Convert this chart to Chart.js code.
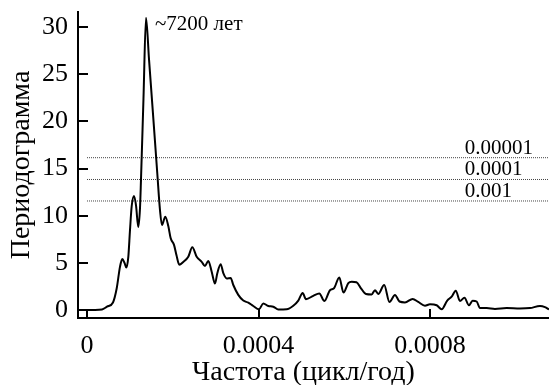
<!DOCTYPE html>
<html>
<head>
<meta charset="utf-8">
<script src="https://cdn.jsdelivr.net/npm/chart.js@4.4.1/dist/chart.umd.min.js"></script>
<style>
  html, body { margin: 0; padding: 0; background: #fff; }
  #wrap { width: 549px; height: 385px; }
</style>
</head>
<body>
<div id="wrap"><canvas id="myChart" width="549" height="385"></canvas></div>
<script>
// frequency, cycles per year
const freq = [
  0, 0.0000187, 0.0000350, 0.0000466, 0.0000606, 0.0000693, 0.0000770, 0.0000823,
  0.0000875, 0.0000917, 0.0000963, 0.0001003, 0.0001042, 0.0001096, 0.0001143, 0.0001196,
  0.0001236, 0.0001259, 0.0001317, 0.0001376, 0.0001446, 0.0001539, 0.0001639, 0.0001702,
  0.0001749, 0.0001826, 0.0001896, 0.0001952, 0.0002029, 0.0002087, 0.0002152, 0.0002246,
  0.0002362, 0.0002456, 0.0002558, 0.0002675, 0.0002752, 0.0002829, 0.0002908, 0.0002985,
  0.0003039, 0.0003118, 0.0003179, 0.0003258, 0.0003351, 0.0003412, 0.0003528, 0.0003645,
  0.0003761, 0.0003878, 0.0004011, 0.0004111, 0.0004228, 0.0004345, 0.0004461, 0.0004657,
  0.0004811, 0.0004928, 0.0005030, 0.0005107, 0.0005277, 0.0005417, 0.0005538, 0.0005667,
  0.0005760, 0.0005884, 0.0005982, 0.0006094, 0.0006173, 0.0006285, 0.0006390, 0.0006506,
  0.0006639, 0.0006716, 0.0006793, 0.0006931, 0.0007054, 0.0007183, 0.0007288, 0.0007416,
  0.0007595, 0.0007726, 0.0007882, 0.0007999, 0.0008155, 0.0008272, 0.0008402, 0.0008505,
  0.0008600, 0.0008698, 0.0008803, 0.0008908, 0.0008994, 0.0009088, 0.0009165, 0.0009321,
  0.0009515, 0.0009787, 0.0010098, 0.0010331, 0.0010564, 0.0010681, 0.0010774
];

// periodogram value at each frequency
const power = [
  0.0, 0.0, 0.05, 0.35, 0.8, 2.3, 4.6, 5.4,
  5.0, 4.5, 5.6, 8.5, 11.0, 12.1, 11.1, 8.8,
  10.8, 13.8, 22.4, 31.0, 26.6, 20.8, 14.5, 10.6,
  9.0, 9.9, 8.9, 7.6, 6.9, 5.8, 4.8, 5.1,
  5.65, 6.65, 5.65, 5.1, 4.67, 5.2, 4.06, 2.8,
  3.9, 4.85, 3.9, 3.35, 3.4, 2.65, 1.6, 1.0,
  0.78, 0.42, 0.07, 0.7, 0.42, 0.35, 0.05, 0.07,
  0.45, 1.0, 1.8, 1.15, 1.5, 1.75, 0.95, 2.1,
  2.3, 3.45, 1.85, 2.85, 3.0, 2.95, 2.3, 1.7,
  1.65, 2.1, 1.7, 2.65, 0.85, 1.6, 0.9, 0.8,
  1.17, 0.85, 0.45, 0.6, 0.5, 0.07, 1.0, 1.41,
  2.05, 0.95, 1.3, 0.5, 0.99, 0.9, 0.2, 0.2,
  0.1, 0.2, 0.15, 0.2, 0.42, 0.3, 0.05
];

// significance levels
const levelValues = [16.15, 13.84, 11.56];
const levelLabels = ['0.00001', '0.0001', '0.001'];

const peakLabel = '~7200 лет';
const xTitle = 'Частота (цикл/год)';

const xMin = -0.000021;
const xMax = 0.0010775;
const serif = '"Liberation Serif", "Times New Roman", serif';

const curve = freq.map((f, i) => ({ x: f, y: power[i] }));

const levelSets = levelValues.map((v) => ({
  data: [{ x: 0, y: v }, { x: xMax, y: v }],
  borderColor: '#444',
  borderWidth: 1,
  borderDash: [1, 1],
  pointRadius: 0,
}));

// inward tick marks, x title, level labels and the peak note
const decorations = {
  id: 'decorations',
  afterDraw(chart) {
    const ctx = chart.ctx;
    const xs = chart.scales.x;
    const ys = chart.scales.y;
    const area = chart.chartArea;
    ctx.save();
    ctx.strokeStyle = '#000';
    ctx.lineWidth = 2;
    ys.ticks.forEach((t) => {
      const py = Math.round(ys.getPixelForValue(t.value));
      ctx.beginPath();
      ctx.moveTo(area.left, py);
      ctx.lineTo(area.left + 10, py);
      ctx.stroke();
    });
    xs.ticks.forEach((t) => {
      const px = Math.round(xs.getPixelForValue(t.value));
      ctx.beginPath();
      ctx.moveTo(px, area.bottom);
      ctx.lineTo(px, area.bottom - 9);
      ctx.stroke();
    });

    ctx.fillStyle = '#000';
    ctx.textAlign = 'center';
    ctx.textBaseline = 'middle';
    ctx.font = '28px ' + serif;
    ctx.fillText(xTitle, (area.left + area.right) / 2 - 10, area.bottom + 55);

    ctx.textAlign = 'left';
    ctx.textBaseline = 'alphabetic';
    ctx.font = '21px ' + serif;
    const lx = xs.getPixelForValue(0.000881);
    levelValues.forEach((v, i) => {
      ctx.fillText(levelLabels[i], lx, ys.getPixelForValue(v) - 4);
    });

    let peak = 0;
    power.forEach((p, i) => { if (p > power[peak]) peak = i; });
    ctx.fillText(peakLabel,
      xs.getPixelForValue(freq[peak]) + 9,
      ys.getPixelForValue(power[peak]) + 12);
    ctx.restore();
  },
};

var ctx = document.getElementById('myChart').getContext('2d');
var myChart = new Chart(ctx, {
  type: 'line',
  data: {
    datasets: [
      {
        data: curve,
        borderColor: '#000',
        borderWidth: 2,
        pointRadius: 0,
        cubicInterpolationMode: 'monotone',
      },
      ...levelSets,
    ],
  },
  options: {
    responsive: false,
    animation: false,
    layout: { padding: { top: 12, right: 0, left: 0, bottom: 0 } },
    plugins: { legend: { display: false }, tooltip: { enabled: false } },
    scales: {
      x: {
        type: 'linear',
        min: xMin,
        max: xMax,
        grid: { display: false, drawTicks: false },
        border: { display: true, color: '#000', width: 2 },
        ticks: {
          stepSize: 0.0004,
          includeBounds: false,
          padding: 13,
          color: '#000',
          font: { family: serif, size: 26 },
          callback: (v) => (v === 0 ? '0' : v.toFixed(4)),
        },
        afterFit: (scale) => {
          scale.height = 67;
          scale.paddingLeft = 0;
          scale.paddingRight = 0;
        },
      },
      y: {
        min: -0.85,
        max: 31.6,
        grid: { display: false, drawTicks: false },
        border: { display: true, color: '#000', width: 2 },
        ticks: {
          stepSize: 5,
          includeBounds: false,
          padding: 10,
          color: '#000',
          font: { family: serif, size: 26 },
        },
        title: {
          display: true,
          text: 'Периодограмма',
          color: '#000',
          font: { family: serif, size: 28, lineHeight: 1 },
          padding: { top: 8, bottom: 0 },
        },
        afterFit: (scale) => {
          scale.width = 78;
          scale.paddingTop = 0;
          scale.paddingBottom = 0;
        },
      },
    },
  },
  plugins: [decorations],
});
</script>
</body>
</html>
